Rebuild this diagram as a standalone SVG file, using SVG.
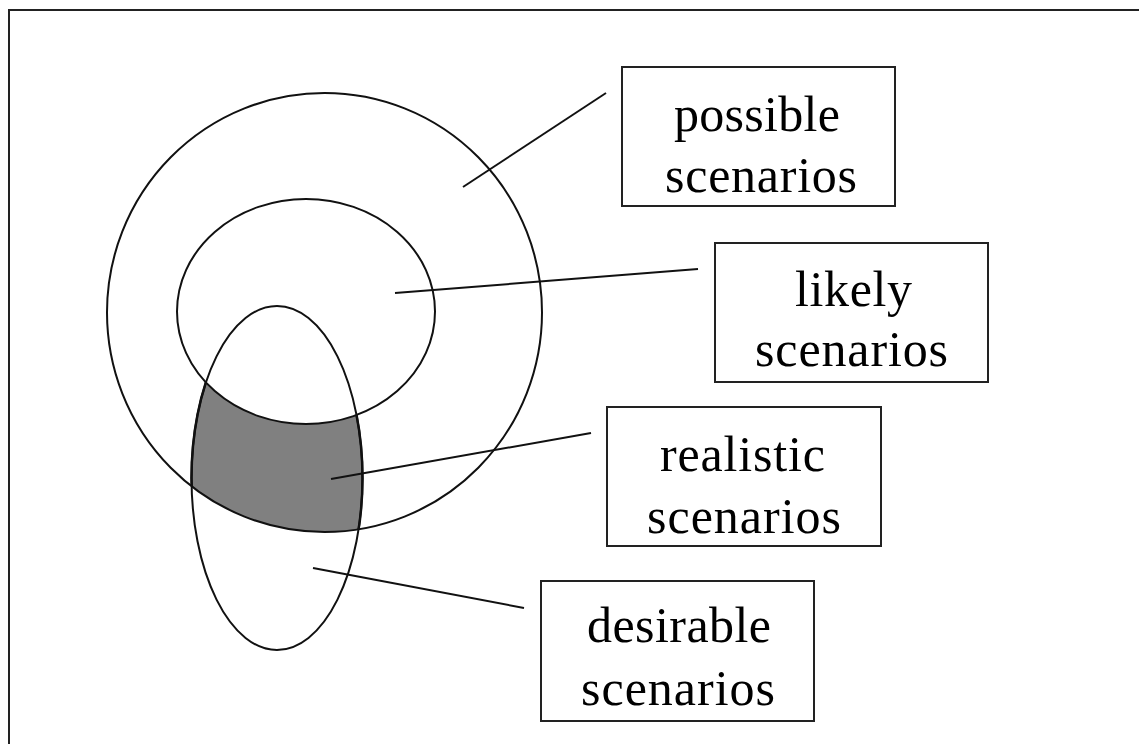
<svg xmlns="http://www.w3.org/2000/svg" width="1139" height="744" viewBox="0 0 1139 744">
<style>
.ol{fill:none;stroke:#111;stroke-width:2}
.box{fill:#fff;stroke:#222;stroke-width:2}
.lbl{font-family:"Liberation Serif","Times New Roman",serif;font-size:50px;fill:#000}
.con{stroke:#111;stroke-width:2;fill:none}
</style>
<defs>
<clipPath id="outerClip"><ellipse cx="324.5" cy="312.5" rx="217.5" ry="219.5"/></clipPath>
</defs>
<rect width="1139" height="744" fill="#fff"/>
<rect x="9" y="10" width="1300" height="900" fill="none" stroke="#222" stroke-width="2"/>
<g id="regions">
<ellipse cx="277" cy="478" rx="85.5" ry="172" fill="#808080" stroke="#111" stroke-width="2.5" clip-path="url(#outerClip)"/>
<ellipse cx="306" cy="311.5" rx="129" ry="112.5" fill="#fff"/>
<ellipse id="possible-set" class="ol" cx="324.5" cy="312.5" rx="217.5" ry="219.5"/>
<ellipse id="likely-set" class="ol" cx="306" cy="311.5" rx="129" ry="112.5"/>
<ellipse id="desirable-set" class="ol" cx="277" cy="478" rx="85.5" ry="172"/>
</g>
<g id="connectors">
<line class="con" x1="463" y1="187" x2="606" y2="93"/>
<line class="con" x1="395" y1="293" x2="698" y2="269"/>
<line class="con" x1="331" y1="479" x2="591" y2="433"/>
<line class="con" x1="313" y1="568" x2="524" y2="608"/>
</g>
<g id="possible">
<rect class="box" x="622" y="67" width="273" height="139"/>
<text class="lbl" x="674" y="131" textLength="166" lengthAdjust="spacing">possible</text>
<text class="lbl" x="665" y="192" textLength="192" lengthAdjust="spacing">scenarios</text>
</g>
<g id="likely">
<rect class="box" x="715" y="243" width="273" height="139"/>
<text class="lbl" x="795" y="306" textLength="117" lengthAdjust="spacing">likely</text>
<text class="lbl" x="755" y="366" textLength="193" lengthAdjust="spacing">scenarios</text>
</g>
<g id="realistic">
<rect class="box" x="607" y="407" width="274" height="139"/>
<text class="lbl" x="660" y="471" textLength="165" lengthAdjust="spacing">realistic</text>
<text class="lbl" x="647" y="533" textLength="194" lengthAdjust="spacing">scenarios</text>
</g>
<g id="desirable">
<rect class="box" x="541" y="581" width="273" height="140"/>
<text class="lbl" x="587" y="642" textLength="184" lengthAdjust="spacing">desirable</text>
<text class="lbl" x="581" y="705" textLength="194" lengthAdjust="spacing">scenarios</text>
</g>
</svg>
